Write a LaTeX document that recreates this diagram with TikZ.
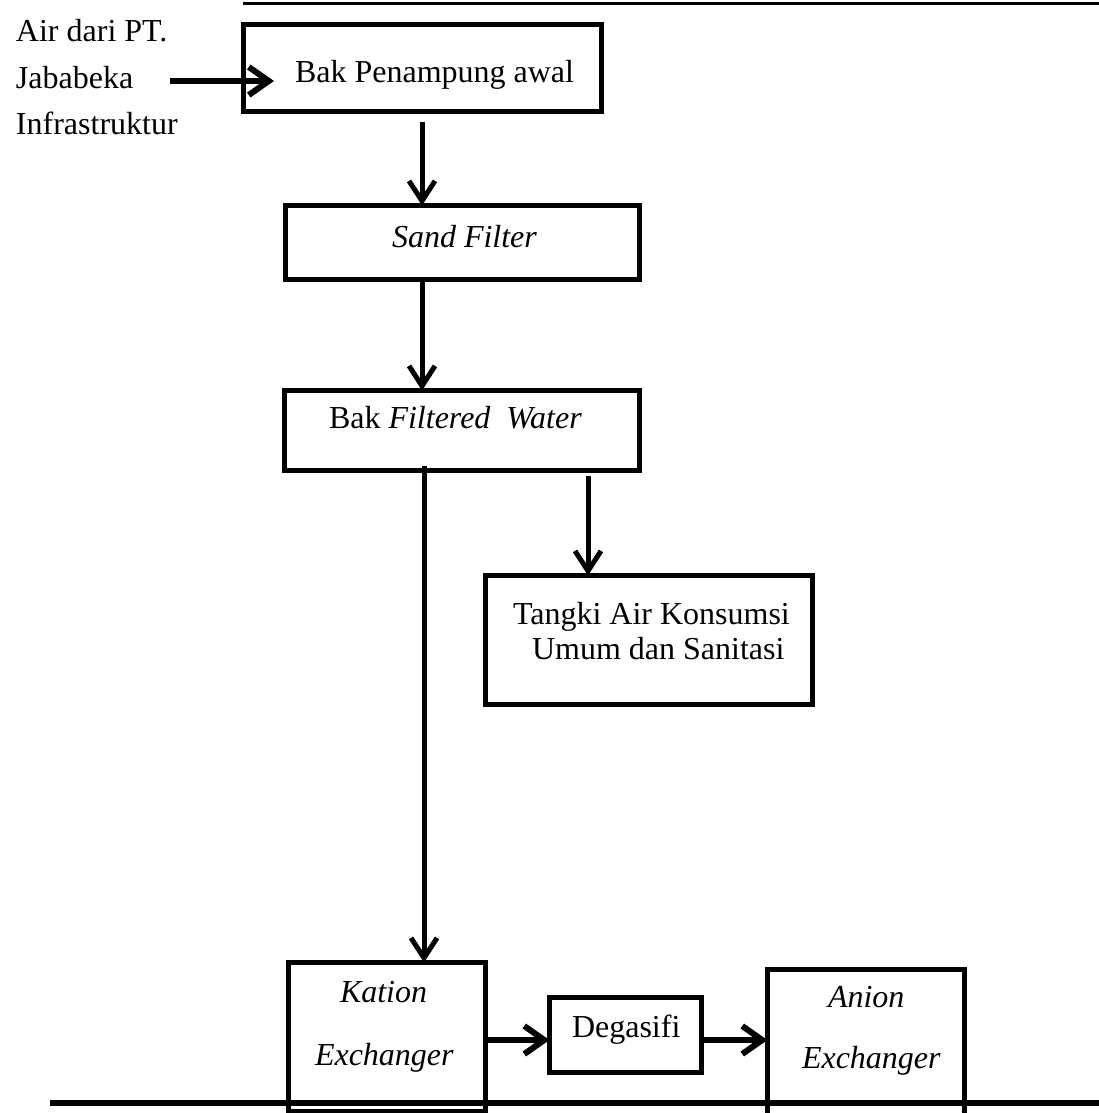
\documentclass[tikz,border=0pt]{standalone}
\usepackage{fontspec}
\setmainfont{Liberation Serif}
\usetikzlibrary{arrows.meta}
\begin{document}
\begin{tikzpicture}[x=1pt,y=-1pt,
  box/.style={draw,line width=5pt,rectangle,inner sep=0pt,outer sep=0pt},
  lbl/.style={inner sep=0pt,outer sep=0pt,anchor=base west,font=\fontsize{32}{38}\selectfont},
  arr/.style={line width=5pt,-{Straight Barb[length=20pt,width=26pt]}},
  harr/.style={line width=6pt,-{Straight Barb[length=20pt,width=28pt]}}]
\useasboundingbox (0,0) rectangle (1099,1113);
% rules
\draw[line width=3pt] (243,4) -- (1099,4);
% boxes
\node[box,minimum width=358pt,minimum height=87pt] (b1) at (422,68.5) {};
\node[box,minimum width=354pt,minimum height=74pt] (b2) at (462.5,242.5) {};
\node[box,minimum width=355pt,minimum height=80pt] (b3) at (462,430.5) {};
\node[box,minimum width=327pt,minimum height=129pt] (b4) at (649,640) {};
\node[box,minimum width=197pt,minimum height=148.5pt] (b5) at (387,1036.75) {};
\node[box,minimum width=152pt,minimum height=75pt] (b6) at (625.5,1035) {};
\node[box,minimum width=197pt,minimum height=170.5pt] (b7) at (866,1054.75) {};
\draw[line width=6pt] (50,1103) -- (1099,1103);
% texts
\node[lbl] (s1) at (16,42) {Air dari PT.};
\node[lbl] (s2) at (16,89) {Jababeka};
\node[lbl] (s3) at (16,135) {Infrastruktur};
\node[lbl] (t1) at (295,83) {Bak Penampung awal};
\node[lbl] (t2) at (392,247) {\itshape Sand Filter};
\node[lbl] (t3) at (329,428) {Bak \textit{Filtered\ \ Water}};
\node[lbl] (t4a) at (513,624) {Tangki Air Konsumsi};
\node[lbl] (t4b) at (532,659) {Umum dan Sanitasi};
\node[lbl] (t5a) at (340,1002) {\itshape Kation};
\node[lbl] (t5b) at (315,1065) {\itshape Exchanger};
\node[lbl] (t6) at (572,1037) {Degasifi};
\node[lbl] (t7a) at (828,1007) {\itshape Anion};
\node[lbl] (t7b) at (802,1068) {\itshape Exchanger};
% connectors
\coordinate (in) at (170,81);
\draw[harr] (in) -- ([xshift=31pt]in -| b1.west);
\draw[arr] ([yshift=-10pt]b1.south) -- (b1.south |- b2.north);
\draw[arr] (b1.south |- b2.south) -- (b1.south |- b3.north);
\draw[arr] ([xshift=2pt,yshift=5pt]b3.south -| b1.south) -- ([xshift=2pt]b1.south |- b5.north);
\draw[arr] ([xshift=126pt,yshift=-5pt]b3.south) -- ([xshift=126pt]b3.south |- b4.north);
\draw[harr] ([yshift=-5pt]b6.west -| b5.east) -- ([yshift=-5pt]b6.west);
\draw[harr] ([yshift=-5pt]b6.east) -- ([yshift=-5pt]b6.east -| b7.west);
\end{tikzpicture}
\end{document}
